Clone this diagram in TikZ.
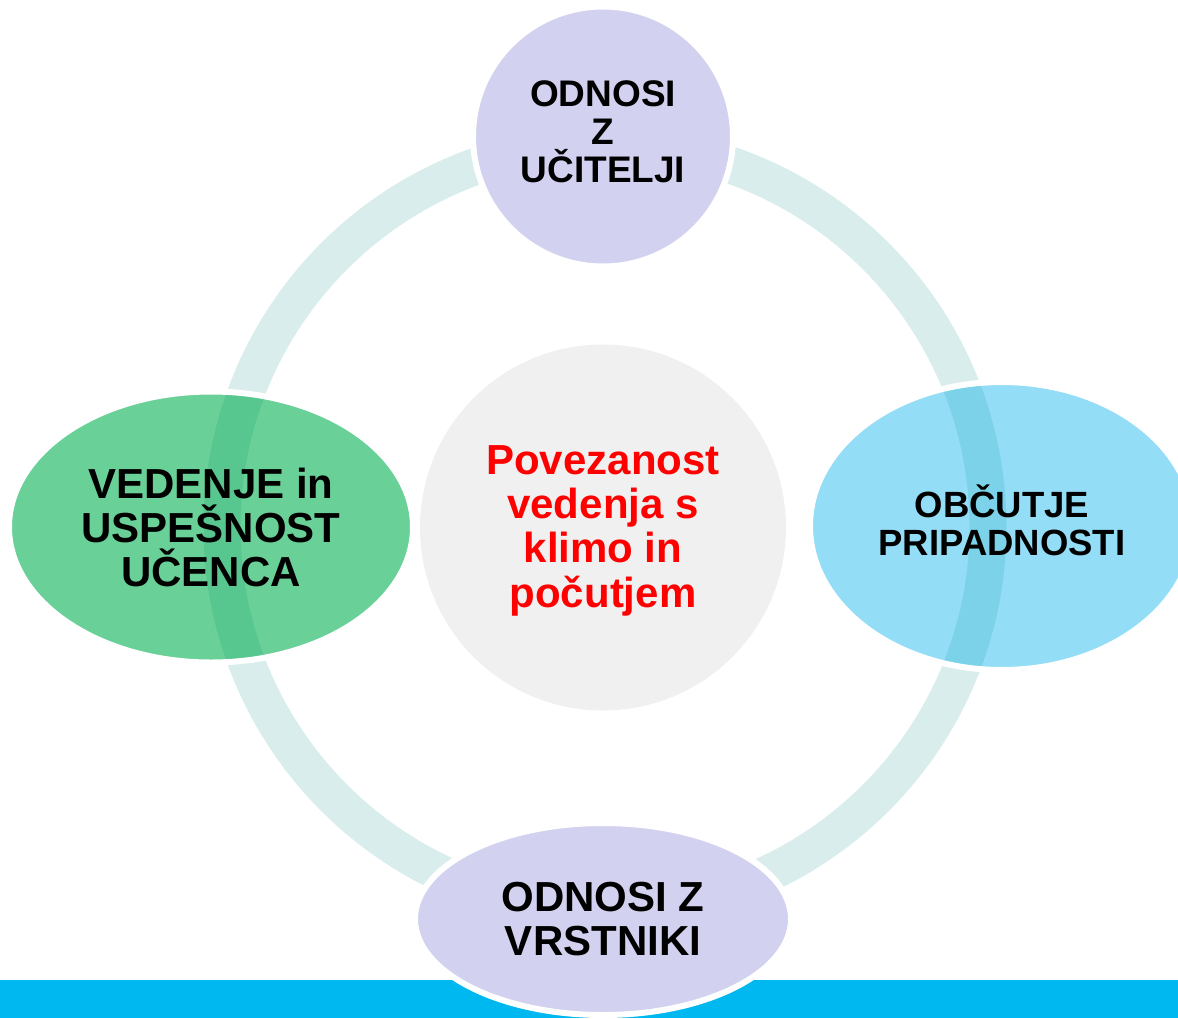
\documentclass[tikz,border=0pt]{standalone}
\usepackage{fontspec}
\setmainfont{Liberation Sans}
\usepackage{xcolor}
\usepackage{tikz}
\usetikzlibrary{shapes.geometric}

\definecolor{ringteal}{HTML}{DAEDED}
\definecolor{bandtint}{HTML}{D6F4F1}
\definecolor{lavender}{HTML}{D2D2F0}
\definecolor{skyfill}{HTML}{94DDF7}
\definecolor{leaffill}{HTML}{69D098}
\definecolor{hubgray}{HTML}{F0F0F0}
\definecolor{barcyan}{HTML}{00B8F0}

\tikzset{
    bubble/.style={draw=white, line width=6pt, inner sep=0pt, align=center,
        font=\bfseries\fontsize{42}{44}\selectfont},
    ring/.style={draw=ringteal, line width=37pt}
}

\begin{document}
\begin{tikzpicture}[x=1pt, y=-1pt]
    \useasboundingbox (0,0) rectangle (1178,1018);
    \clip (0,0) rectangle (1178,1018);
    \fill[barcyan] (0,980) rectangle (1178,1018);
    % cycle ring behind the nodes
    \coordinate (mid) at (605,527);
    \draw[ring] (mid) circle [radius=383pt];
    \node[bubble, ellipse, fill=leaffill, minimum width=404pt, minimum height=271pt]
        (lft) at (211,527) {VEDENJE in\\USPEŠNOST\\UČENCA};
    \node[bubble, ellipse, fill=skyfill, minimum width=384pt, minimum height=288pt,
        text depth=12pt, font=\bfseries\fontsize{36.5}{38}\selectfont]
        (rgt) at (1002,526) {OBČUTJE\\PRIPADNOSTI};
    % the ring shows through the side ellipses
    \begin{scope}[blend mode=multiply]
        \foreach \n/\rx/\ry in {lft/199/132.5, rgt/189/141} {
            \begin{scope}
                \clip (\n.center) ellipse [x radius=\rx pt, y radius=\ry pt];
                \draw[ring, draw=bandtint] (mid) circle [radius=383pt];
            \end{scope}
        }
    \end{scope}
    \node[bubble, circle, fill=lavender, minimum size=260pt, text depth=9pt,
        font=\bfseries\fontsize{37}{38}\selectfont]
        (top) at (603,136.5) {ODNOSI\\Z\\UČITELJI};
    \node[bubble, ellipse, fill=lavender, minimum width=376pt, minimum height=192pt]
        (bot) at (603,919) {ODNOSI Z\\VRSTNIKI};
    \node[circle, fill=hubgray, minimum size=366pt, inner sep=0pt, align=center,
        text=red, text depth=2.8pt, font=\bfseries\fontsize{42}{44.3}\selectfont]
        (hub) at (603,527.5) {Povezanost\\vedenja s\\klimo in\\počutjem};
\end{tikzpicture}
\end{document}
